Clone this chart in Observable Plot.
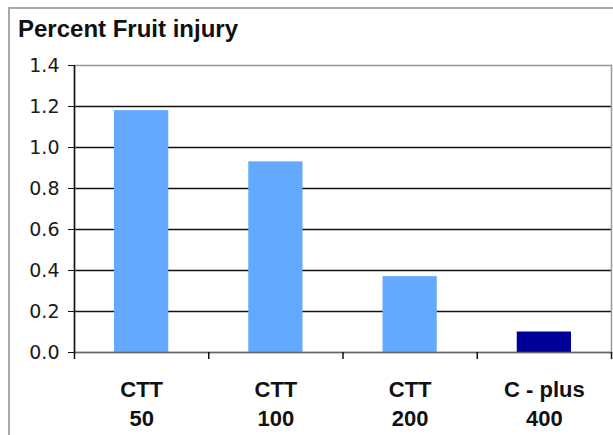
<!DOCTYPE html>
<html>
<head>
<meta charset="utf-8">
<script src="https://cdn.jsdelivr.net/npm/d3@7"></script>
<script src="https://cdn.jsdelivr.net/npm/@observablehq/plot@0.6"></script>
<style>
  html, body { margin: 0; padding: 0; background: #fff; }
  #wrap { position: relative; width: 613px; height: 435px; overflow: hidden; }
  #border { position: absolute; left: 8px; top: 7px; width: 800px; height: 600px;
            border-left: 2px solid #a9a9a9; border-top: 2px solid #a9a9a9; }
  #head { position: relative; height: 45px; }
  #title { position: absolute; left: 18px; top: 15px; line-height: 1;
           font: bold 24px "Liberation Sans", Arial, sans-serif; color: #111; white-space: nowrap; }
  #chart { position: relative; }
  #chart svg { display: block; }
</style>
</head>
<body>
<div id="wrap">
  <div id="border"></div>
  <div id="head"><div id="title">Percent Fruit injury</div></div>
  <div id="chart"></div>
</div>
<script>
const categories = ["CTT\n50", "CTT\n100", "CTT\n200", "C - plus\n400"];
const values = [1.18, 0.93, 0.37, 0.10];
const barColors = ["#63a9ff", "#63a9ff", "#63a9ff", "#000099"];
const yTicks = [0, 0.2, 0.4, 0.6, 0.8, 1.0, 1.2, 1.4];
const gridTicks = [0.2, 0.4, 0.6, 0.8, 1.0, 1.2];

const data = categories.map((c, i) => ({cat: c, i, value: values[i], color: barColors[i]}));
const boundaries = d3.range(categories.length + 1);

const plot = Plot.plot({
  width: 613,
  height: 390,
  marginLeft: 74,
  marginRight: 2,
  marginTop: 20,
  marginBottom: 83,
  style: {background: "transparent", overflow: "visible"},
  x: {type: "linear", domain: [0, categories.length], axis: null},
  y: {type: "linear", domain: [0, 1.4], axis: null},
  marks: [
    Plot.ruleY(gridTicks, {stroke: "#111", strokeWidth: 1.5}),
    Plot.frame({stroke: "#999", strokeWidth: 1.5}),
    Plot.rectY(data, {x1: "i", x2: d => d.i + 1, y: "value", fill: "color", insetLeft: 40, insetRight: 40}),
    Plot.ruleY([0], {stroke: "#666", strokeWidth: 1.5}),
    Plot.ruleX([0], {stroke: "#111", strokeWidth: 1.5}),
    Plot.axisY({ticks: yTicks, tickFormat: d3.format(".1f"), tickSize: 6, tickPadding: 9, label: null,
      fontSize: 19, fontFamily: "DejaVu Sans", fill: "#1a1a1a", stroke: "#111"}),
    Plot.axisX({ticks: boundaries, tickFormat: () => "", tickSize: 7, label: null, stroke: "#111", strokeWidth: 1.5}),
    Plot.text(data, {x: d => d.i + 0.5, y: 0, text: "cat", dy: 24, lineAnchor: "top", lineHeight: 1.32,
      fontSize: 22, fontWeight: "bold", fontFamily: "Liberation Sans", fill: "#111"})
  ]
});
document.getElementById("chart").appendChild(plot);
</script>
</body>
</html>
